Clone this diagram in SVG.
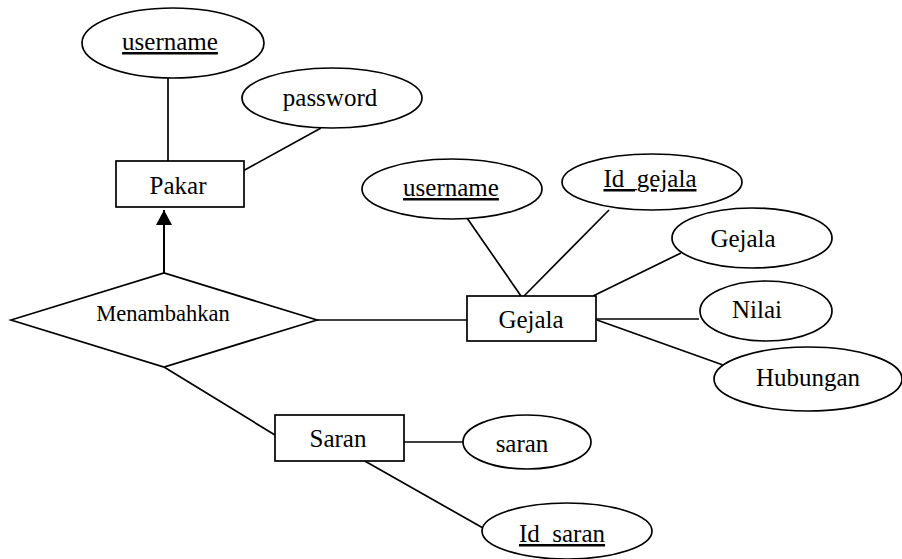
<svg xmlns="http://www.w3.org/2000/svg" width="902" height="559" viewBox="0 0 902 559">
<style>
.s{fill:#fff;stroke:#000;stroke-width:1.7}
.c line{stroke:#000;stroke-width:1.7}
text{font-family:"Liberation Serif","Times New Roman",serif;font-size:25px;fill:#000;text-anchor:middle}
.u{text-decoration:underline}
</style>
<defs>
<marker id="arr" markerWidth="16" markerHeight="16" refX="15" refY="8" orient="auto" markerUnits="userSpaceOnUse">
<path d="M0,0 L15,8 L0,16 Z" fill="#000"/>
</marker>
</defs>
<rect width="902" height="559" fill="#fff"/>
<g class="c" id="connectors">
<line x1="168" y1="78" x2="168" y2="161"/>
<line x1="321" y1="128" x2="241" y2="172"/>
<line x1="164" y1="273" x2="164" y2="210" marker-end="url(#arr)" style="stroke-width:2"/>
<line x1="317" y1="320" x2="467" y2="320"/>
<line x1="164" y1="367" x2="275" y2="435"/>
<line x1="404" y1="442" x2="463" y2="442"/>
<line x1="363" y1="460" x2="483" y2="528"/>
<line x1="467" y1="218" x2="521" y2="296"/>
<line x1="609" y1="210" x2="524" y2="296"/>
<line x1="681" y1="253" x2="593" y2="296"/>
<line x1="596" y1="319" x2="699" y2="319"/>
<line x1="597" y1="320" x2="723" y2="365"/>
</g>
<g id="pakar-username"><ellipse class="s" cx="173" cy="43" rx="91" ry="35"/><text class="u" x="170" y="50">username</text></g>
<g id="password"><ellipse class="s" cx="332" cy="98" rx="90" ry="30"/><text x="330" y="106">password</text></g>
<g id="pakar"><rect class="s" x="116" y="161" width="128" height="46"/><text x="178" y="194">Pakar</text></g>
<g id="menambahkan"><polygon class="s" points="11,320 164,273 317,320 164,367"/><text x="163" y="321" style="font-size:22.5px">Menambahkan</text></g>
<g id="gejala-username"><ellipse class="s" cx="452" cy="189" rx="90" ry="30"/><text class="u" x="451" y="196">username</text></g>
<g id="id-gejala"><ellipse class="s" cx="652" cy="182" rx="90" ry="28"/><text class="u" x="650" y="187">Id_gejala</text></g>
<g id="gejala-attr"><ellipse class="s" cx="752" cy="238" rx="80" ry="30"/><text x="743" y="247">Gejala</text></g>
<g id="nilai"><ellipse class="s" cx="766" cy="311" rx="66" ry="30"/><text x="757" y="318">Nilai</text></g>
<g id="hubungan"><ellipse class="s" cx="808" cy="379" rx="94" ry="32"/><text x="808" y="386">Hubungan</text></g>
<g id="gejala"><rect class="s" x="467" y="296" width="129" height="45"/><text x="531" y="328">Gejala</text></g>
<g id="saran"><rect class="s" x="275" y="415" width="129" height="46"/><text x="338" y="447">Saran</text></g>
<g id="saran-attr"><ellipse class="s" cx="527" cy="442" rx="64" ry="27"/><text x="522" y="452">saran</text></g>
<g id="id-saran"><ellipse class="s" cx="567" cy="531" rx="85" ry="28"/><text class="u" x="562" y="542">Id_saran</text></g>
</svg>
